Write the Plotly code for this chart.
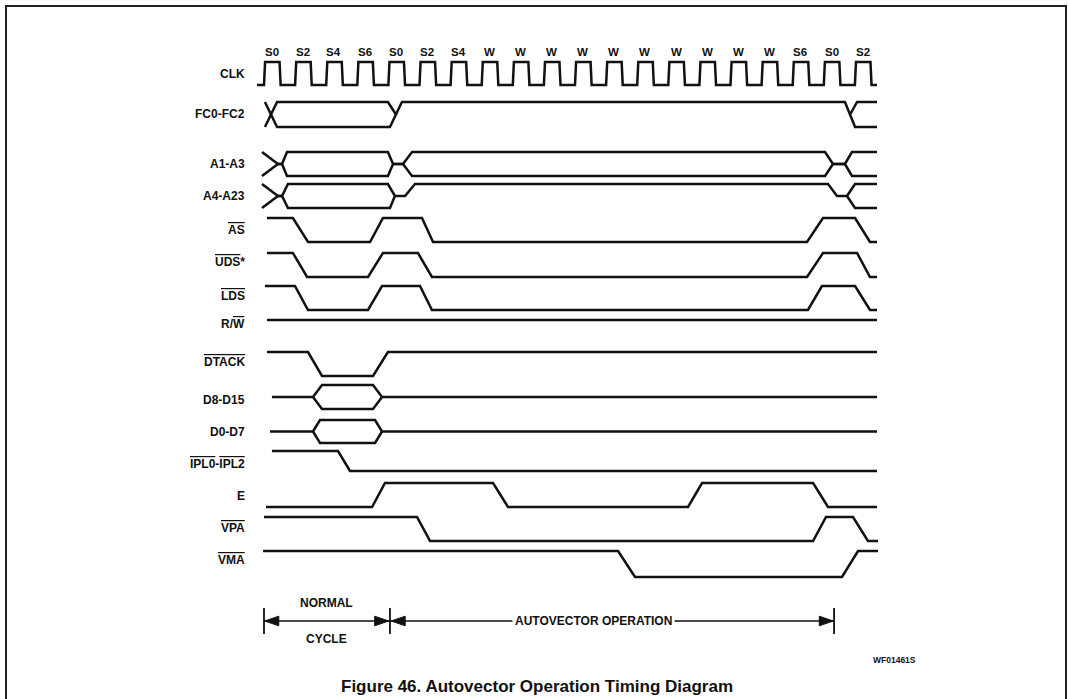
import plotly.graph_objects as go

# ---------------- data (time in clock states, S0 of first cycle = 0) ----------------
state_labels = ["S0", "S2", "S4", "S6", "S0", "S2", "S4", "W", "W", "W",
                "W", "W", "W", "W", "W", "W", "W", "S6", "S0", "S2"]
clk_rise = [0, 2, 4, 6, 8, 10, 12, 14, 16, 18, 20, 22, 24, 26, 28, 30, 32, 34, 36, 38]
clk_fall = [1, 3, 5, 7, 9, 11, 13, 15, 17, 19, 21, 23, 25, 27, 29, 31, 33, 35, 37, 39]
clk_start, clk_end = -0.45, 39.42

# levels: 1 = high, 0 = low, 0.5 = mid / floating
fc_a_t = [0.06, 0.84, 8.10, 8.87, 37.36, 38.01, 39.42]
fc_a_v = [1, 0, 0, 1, 1, 0, 0]
fc_b_t = [0.06, 0.84, 7.97, 8.49]
fc_b_v = [0, 1, 1, 0.5]
fc_c_t = [37.69, 38.14, 39.42]
fc_c_v = [0.5, 1, 1]

a1_t = [-0.13, 0.90, 1.16, 1.48, 7.97, 8.30, 8.94, 9.52, 36.08, 36.59, 37.36, 37.81, 39.42]
a1_top_v = [1, 0.5, 0.5, 1, 1, 0.5, 0.5, 1, 1, 0.5, 0.5, 1, 1]
a1_bot_v = [0, 0.5, 0.5, 0, 0, 0.5, 0.5, 0, 0, 0.5, 0.5, 0, 0]

a4_top_t = [-0.13, 0.90, 1.16, 1.54, 7.97, 8.42, 9.07, 9.71, 36.27, 36.85, 37.49, 38.01, 39.42]
a4_top_v = [1, 0.5, 0.5, 1, 1, 0.5, 0.5, 1, 1, 0.5, 0.5, 1, 1]
a4_bot1_t = [-0.13, 0.90, 1.16, 1.54, 8.10, 8.42]
a4_bot1_v = [0, 0.5, 0.5, 0, 0, 0.5]
a4_bot2_t = [37.49, 38.01, 39.42]
a4_bot2_v = [0.5, 0, 0]

as_t = [0.19, 1.86, 2.83, 6.82, 7.65, 10.16, 10.87, 34.92, 35.95, 38.01, 38.97, 39.42]
as_v = [1, 1, 0, 0, 1, 1, 0, 0, 1, 1, 0, 0]
uds_t = [0.19, 1.86, 2.77, 6.69, 7.65, 9.90, 10.80, 34.92, 35.95, 38.14, 38.97, 39.42]
uds_v = [1, 1, 0, 0, 1, 1, 0, 0, 1, 1, 0, 0]
lds_t = [0.06, 1.99, 2.83, 6.69, 7.59, 10.03, 10.80, 34.98, 35.88, 38.01, 38.97, 39.42]
lds_v = [1, 1, 0, 0, 1, 1, 0, 0, 1, 1, 0, 0]
rw_t = [0.19, 39.42]
rw_v = [1, 1]
dtack_t = [0.19, 2.83, 3.73, 7.01, 7.97, 39.42]
dtack_v = [1, 1, 0, 0, 1, 1]
d8_top_t = [0.51, 3.15, 3.73, 7.01, 7.59, 39.42]
d8_top_v = [0.5, 0.5, 1, 1, 0.5, 0.5]
d8_bot_t = [3.15, 3.73, 7.01, 7.59]
d8_bot_v = [0.5, 0, 0, 0.5]
d0_top_t = [0.39, 3.15, 3.60, 7.14, 7.59, 39.42]
d0_top_v = [0.5, 0.5, 1, 1, 0.5, 0.5]
d0_bot_t = [3.15, 3.60, 7.14, 7.59]
d0_bot_v = [0.5, 0, 0, 0.5]
ipl_t = [0.51, 4.76, 5.53, 39.42]
ipl_v = [1, 1, 0, 0]
e_t = [0.13, 6.95, 7.78, 14.73, 15.69, 27.27, 28.17, 35.31, 36.27, 39.42]
e_v = [0, 0, 1, 1, 0, 0, 1, 1, 0, 0]
vpa_t = [0.0, 9.84, 10.68, 35.31, 36.14, 37.88, 38.84, 39.49]
vpa_v = [1, 1, 0, 0, 1, 1, 0, 0]
vma_t = [-0.06, 22.77, 23.86, 37.17, 38.20, 39.49]
vma_v = [1, 1, 0, 0, 1, 1]

phase_marks = [0.0, 8.10, 36.66]        # NORMAL CYCLE | AUTOVECTOR OPERATION |
phase_texts = ["NORMAL", "CYCLE", "AUTOVECTOR OPERATION"]

OL = '<span style="text-decoration:overline">%s</span>'
signal_names = ["CLK", "FC0-FC2", "A1-A3", "A4-A23",
                OL % "AS", OL % "UDS" + "*", OL % "LDS", "R/" + OL % "W",
                OL % "DTACK", "D8-D15", "D0-D7",
                OL % "IPL0" + "-" + OL % "IPL2", "E", OL % "VPA", OL % "VMA"]

# ---------------- layout (page pixels) ----------------
W, H = 1068, 699
PX0, PXS = 264.0, 15.55      # pixel of t=0, pixels per state
rows = {                      # (y of high level, y of low level)
    "CLK": (62, 85), "FC": (102, 127), "A1": (152, 176), "A4": (184, 208),
    "AS": (218, 242), "UDS": (253, 277), "LDS": (286, 310), "RW": (320, 344),
    "DTACK": (352, 376), "D8": (385, 409), "D0": (420, 443), "IPL": (451, 471),
    "E": (483, 507), "VPA": (517, 541), "VMA": (551, 577),
}
label_y = [74, 114, 164, 196, 230, 262, 296, 324, 362, 400, 432, 464, 496, 528, 560]
LABEL_X = 247
LW = 2.5
INK = "#111111"
FONT = "Liberation Sans, Arial, Helvetica, sans-serif"


def t_of(px):
    return (px - PX0) / PXS


def ypix(row, levels):
    hi, lo = rows[row]
    return [lo - v * (lo - hi) for v in levels]


fig = go.Figure()


def wave(row, ts, vs):
    fig.add_trace(go.Scatter(x=ts, y=ypix(row, vs), mode="lines",
                             line=dict(color=INK, width=LW, shape="linear"),
                             hoverinfo="skip", showlegend=False))


# clock
edge = 0.07
ct, cv = [clk_start], [0]
for r, f in zip(clk_rise, clk_fall):
    ct += [r, r + edge, f, f + edge]
    cv += [0, 1, 1, 0]
ct.append(clk_end)
cv.append(0)
wave("CLK", ct, cv)

wave("FC", fc_a_t, fc_a_v)
wave("FC", fc_b_t, fc_b_v)
wave("FC", fc_c_t, fc_c_v)
wave("A1", a1_t, a1_top_v)
wave("A1", a1_t, a1_bot_v)
wave("A4", a4_top_t, a4_top_v)
wave("A4", a4_bot1_t, a4_bot1_v)
wave("A4", a4_bot2_t, a4_bot2_v)
wave("AS", as_t, as_v)
wave("UDS", uds_t, uds_v)
wave("LDS", lds_t, lds_v)
wave("RW", rw_t, rw_v)
wave("DTACK", dtack_t, dtack_v)
wave("D8", d8_top_t, d8_top_v)
wave("D8", d8_bot_t, d8_bot_v)
wave("D0", d0_top_t, d0_top_v)
wave("D0", d0_bot_t, d0_bot_v)
wave("IPL", ipl_t, ipl_v)
wave("E", e_t, e_v)
wave("VPA", vpa_t, vpa_v)
wave("VMA", vma_t, vma_v)

ann = []
# state labels
for i, s in enumerate(state_labels):
    ann.append(dict(x=clk_rise[i] + 0.5, y=52, text="<b>%s</b>" % s, showarrow=False,
                    xanchor="center", yanchor="middle",
                    font=dict(family=FONT, size=11.5, color=INK)))
# signal names
for name, yy in zip(signal_names, label_y):
    ann.append(dict(x=t_of(LABEL_X), y=yy, text="<b>%s</b>" % name, showarrow=False,
                    xanchor="right", yanchor="middle",
                    font=dict(family=FONT, size=12, color=INK)))

# phase brackets
AY = 621
fig.add_trace(go.Scatter(x=[phase_marks[0], phase_marks[2]], y=[AY, AY], mode="lines",
                         line=dict(color=INK, width=1.6), hoverinfo="skip", showlegend=False))
for m in phase_marks:
    fig.add_trace(go.Scatter(x=[m, m], y=[608, 634], mode="lines",
                             line=dict(color=INK, width=1.8), hoverinfo="skip", showlegend=False))
HL, HH = 14 / PXS, 4.8


def head(tip, direction):
    base = tip - direction * HL
    fig.add_trace(go.Scatter(x=[tip, base, base, tip], y=[AY, AY - HH, AY + HH, AY],
                             mode="lines", fill="toself", fillcolor=INK,
                             line=dict(color=INK, width=1), hoverinfo="skip", showlegend=False))


head(phase_marks[0] + 0.05, -1)
head(phase_marks[1] - 0.08, 1)
head(phase_marks[1] + 0.08, -1)
head(phase_marks[2] - 0.05, 1)

mid_norm = (phase_marks[0] + phase_marks[1]) / 2
ann.append(dict(x=mid_norm, y=603, text="<b>%s</b>" % phase_texts[0], showarrow=False,
                font=dict(family=FONT, size=12, color=INK)))
ann.append(dict(x=mid_norm, y=639, text="<b>%s</b>" % phase_texts[1], showarrow=False,
                font=dict(family=FONT, size=12, color=INK)))
ann.append(dict(x=t_of(593), y=AY, text="<b>%s</b>" % phase_texts[2], showarrow=False,
                bgcolor="white", borderpad=2,
                font=dict(family=FONT, size=12, color=INK)))

ann.append(dict(x=t_of(894), y=660, text="<b>WF01461S</b>", showarrow=False,
                font=dict(family=FONT, size=8.5, color=INK)))
ann.append(dict(x=t_of(537), y=686, text="<b>Figure 46. Autovector Operation Timing Diagram</b>",
                showarrow=False, font=dict(family=FONT, size=17, color=INK)))

fig.update_layout(
    width=W, height=H, margin=dict(l=0, r=0, t=0, b=0),
    paper_bgcolor="white", plot_bgcolor="white",
    xaxis=dict(range=[t_of(0), t_of(W)], visible=False, fixedrange=True),
    yaxis=dict(range=[H, 0], visible=False, fixedrange=True),
    annotations=ann,
    shapes=[dict(type="rect", xref="paper", yref="paper",
                 x0=6 / W, x1=1066 / W, y0=-0.02, y1=1 - 6 / H,
                 line=dict(color="#222222", width=2))],
    showlegend=False,
)

fig.write_html("out.html", config={"displayModeBar": False, "staticPlot": True},
               post_script="document.body.style.margin='0px';document.body.style.overflow='hidden';")
